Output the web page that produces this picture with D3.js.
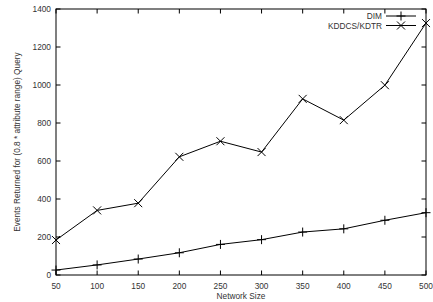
<html>
<head>
<script src="https://cdnjs.cloudflare.com/ajax/libs/d3/7.8.5/d3.min.js"></script>
<style>
  body{margin:0;background:#fff;}
  text{font-family:"Liberation Sans",Arial,sans-serif;font-size:8.3px;fill:#333;}
  .ln{fill:none;stroke:#000;stroke-width:1px;}
  .mk{stroke:#000;stroke-width:1px;fill:none;}
</style>
</head>
<body>
<svg width="433" height="302"></svg>
<script>
var sizes = [50, 100, 150, 200, 250, 300, 350, 400, 450, 500];
var dim = [26, 53, 84, 117, 161, 186, 226, 243, 288, 328];
var kddcs = [184, 340, 378, 622, 704, 647, 927, 815, 999, 1326];
var xTicks = [50, 100, 150, 200, 250, 300, 350, 400, 450, 500];
var yTicks = [0, 200, 400, 600, 800, 1000, 1200, 1400];

var svg = d3.select("svg");
var pL = 56, pR = 426, pT = 9, pB = 275;
var x = d3.scaleLinear().domain([50, 500]).range([pL, pR]);
var y = d3.scaleLinear().domain([0, 1400]).range([pB, pT]);
var tl = 4.5;

// ticks (inward, mirrored)
var g = svg.append("g");
xTicks.forEach(function(t){
  g.append("line").attr("class","ln").attr("x1",x(t)).attr("x2",x(t)).attr("y1",pB).attr("y2",pB-tl);
  g.append("line").attr("class","ln").attr("x1",x(t)).attr("x2",x(t)).attr("y1",pT).attr("y2",pT+tl);
  g.append("text").attr("x",x(t)).attr("y",pB+13.5).attr("text-anchor","middle").text(t);
});
yTicks.forEach(function(t){
  g.append("line").attr("class","ln").attr("x1",pL).attr("x2",pL+tl).attr("y1",y(t)).attr("y2",y(t));
  g.append("line").attr("class","ln").attr("x1",pR).attr("x2",pR-tl).attr("y1",y(t)).attr("y2",y(t));
  g.append("text").attr("x",pL-5).attr("y",y(t)+3).attr("text-anchor","end").text(t);
});
svg.append("rect").attr("x",pL).attr("y",pT).attr("width",pR-pL).attr("height",pB-pT)
  .attr("fill","none").attr("stroke","#000").attr("stroke-width",1);

svg.append("text").attr("x",(pL+pR)/2).attr("y",299).attr("text-anchor","middle").text("Network Size");
svg.append("text").attr("transform","translate(19.5,"+((pT+pB)/2)+") rotate(-90)")
  .attr("text-anchor","middle").text("Events Returned for (0.8 * attribute range) Query");

var line = d3.line().x(function(d, i){ return x(sizes[i]); }).y(function(d){ return y(d); });

function plus(sel, cx, cy){
  sel.append("path").attr("class","mk").attr("d","M"+(cx-4.5)+","+cy+"h9M"+cx+","+(cy-4.5)+"v9");
}
function cross(sel, cx, cy){
  sel.append("path").attr("class","mk").attr("d","M"+(cx-4)+","+(cy-4)+"l8,8M"+(cx-4)+","+(cy+4)+"l8,-8");
}

svg.append("path").datum(dim).attr("class","ln").attr("d", line);
svg.append("path").datum(kddcs).attr("class","ln").attr("d", line);
dim.forEach(function(d, i){ plus(svg, x(sizes[i]), y(d)); });
kddcs.forEach(function(d, i){ cross(svg, x(sizes[i]), y(d)); });

// legend
var names = ["DIM", "KDDCS/KDTR"];
names.forEach(function(n, i){
  var ly = 16 + i * 9.5;
  svg.append("text").attr("x",382).attr("y",ly+3).attr("text-anchor","end").text(n);
  svg.append("line").attr("class","ln").attr("x1",386).attr("x2",416).attr("y1",ly).attr("y2",ly);
  if(i === 0) plus(svg, 401, ly); else cross(svg, 401, ly);
});
</script>
</body>
</html>
